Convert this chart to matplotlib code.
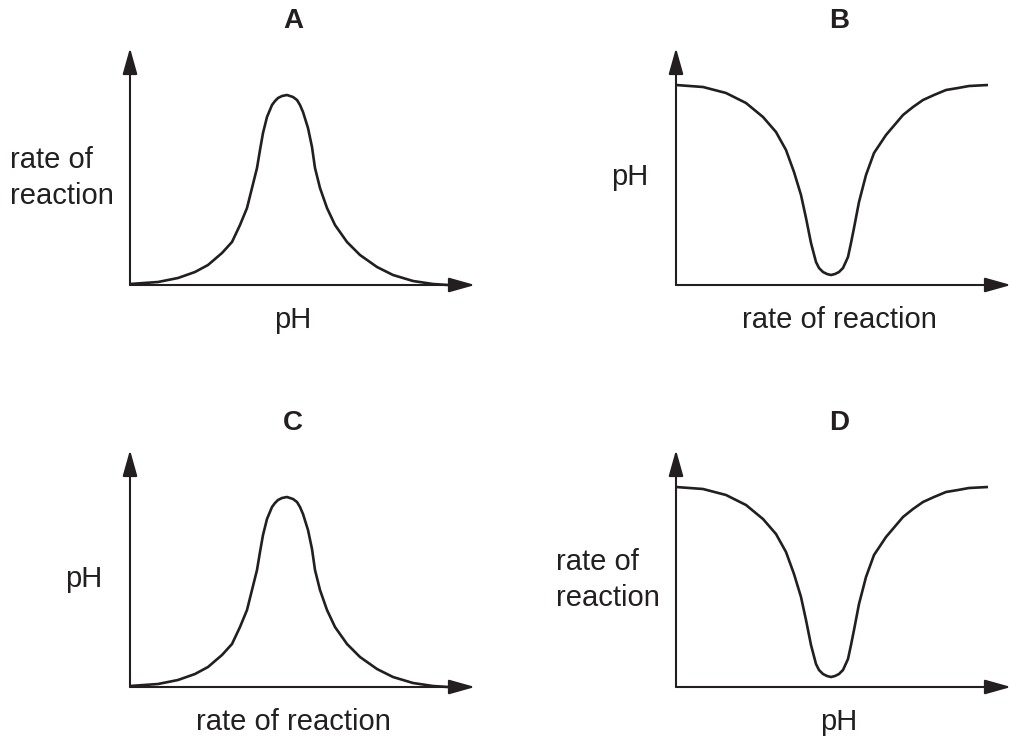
import matplotlib
matplotlib.use("AGG")
import matplotlib.pyplot as plt

plt.rcParams['font.family'] = ['Liberation Sans', 'DejaVu Sans']

# bell curve (panels A and C), offsets from the axis corner in pixels
peak_x = [0, 28, 48, 65, 78, 92, 102, 110, 117, 122, 127, 130, 133, 137, 142, 145, 148,
          152, 157, 163, 167, 170, 173, 178, 182, 185, 190, 197, 205, 217, 230, 247,
          263, 283, 303, 318]
peak_y = [1, 3, 7, 13, 20, 32, 43, 60, 77, 97, 117, 135, 152, 168, 180, 184, 187,
          189, 190, 188, 185, 180, 173, 157, 138, 117, 97, 77, 60, 43, 30, 18,
          10, 4, 1, 0]

# trough curve (panels B and D)
dip_x = [0, 27, 50, 70, 87, 100, 110, 118, 125, 130, 135, 140, 143, 147, 151, 155,
         159, 163, 167, 172, 175, 178, 183, 190, 198, 210, 227, 237, 247, 258, 270,
         282, 293, 312]
dip_y = [200, 198, 192, 182, 168, 153, 135, 113, 90, 67, 42, 23, 17, 13, 11, 10,
         11, 13, 17, 28, 42, 57, 83, 110, 132, 150, 170, 178, 185, 190, 195,
         197, 199, 200]

panels = ["A", "B", "C", "D"]
xlabels = ["pH", "rate of reaction", "rate of reaction", "pH"]
ylabels = ["rate of\nreaction", "pH", "pH", "rate of\nreaction"]
curves = [(peak_x, peak_y), (dip_x, dip_y), (peak_x, peak_y), (dip_x, dip_y)]

W, H = 1011, 736
# axis corner (px from left, px from top) and axis lengths
corners = [(130, 285), (676, 285), (130, 687), (676, 687)]
lengths = [(345, 237), (335, 237), (345, 237), (335, 237)]

fig = plt.figure(figsize=(W / 100, H / 100), dpi=100)

for name, xl, yl, (cx, cy), (lx, ly), corner in zip(panels, xlabels, ylabels, curves,
                                                     lengths, corners):
    x0, y0 = corner
    ax = fig.add_axes([x0 / W, (H - y0) / H, lx / W, ly / H])
    ax.set_xlim(0, lx)
    ax.set_ylim(0, ly)
    ax.axis("off")

    arrow = dict(arrowstyle="-|>,head_length=1.6,head_width=0.45", color="#231f20",
                 lw=1.5, shrinkA=0, shrinkB=0, mutation_scale=10)
    ax.annotate("", xy=(lx, 0), xytext=(0, 0), arrowprops=arrow, annotation_clip=False)
    ax.annotate("", xy=(0, ly), xytext=(0, 0), arrowprops=arrow, annotation_clip=False)

    ax.plot(cx, cy, color="#231f20", lw=1.9, clip_on=False,
            solid_capstyle="butt", solid_joinstyle="round")

    ax.text(163, 264, name, ha="center", va="center", fontsize=20,
            fontweight="bold", color="#231f20", clip_on=False)
    ax.text(163, -35, xl, ha="center", va="center", fontsize=21, color="#231f20")
    if "\n" in yl:
        ax.text(-120, 107, yl, ha="left", va="center", fontsize=21,
                color="#231f20", linespacing=1.35)
    else:
        ax.text(-46, 108, yl, ha="center", va="center", fontsize=21, color="#231f20")

fig.savefig("out.png", dpi=100, facecolor="white")
